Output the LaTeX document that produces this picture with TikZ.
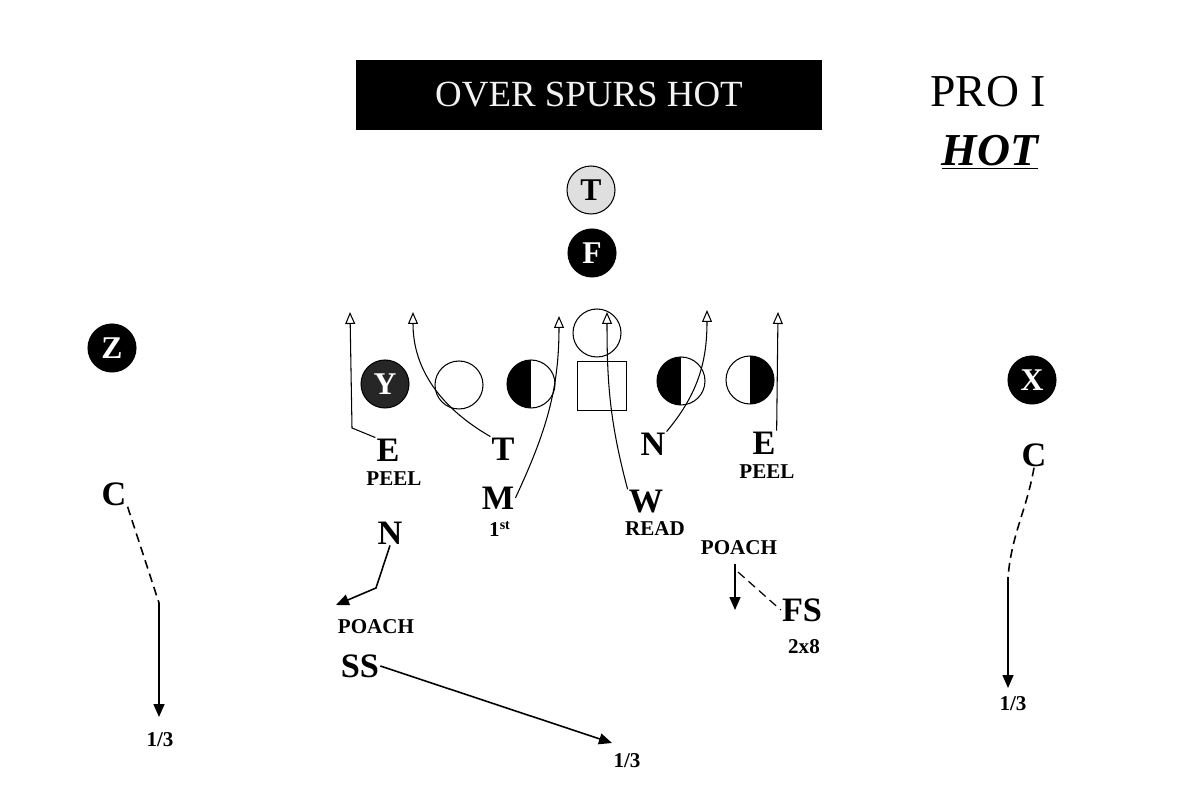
\documentclass[tikz,border=0pt]{standalone}
\usepackage{fontspec}
\setmainfont{Liberation Serif}
\usetikzlibrary{arrows.meta,positioning}

\begin{document}
\begin{tikzpicture}[x=0.02cm,y=-0.02cm,
 plyr/.style={circle,draw,line width=0.6pt,minimum size=0.96cm,inner sep=0pt,font=\fontsize{18}{18}\selectfont\bfseries},
 dark/.style={plyr,fill=black,text=white},
 halfl/.style={plyr,path picture={\fill (path picture bounding box.south west) rectangle (path picture bounding box.north);}},
 halfr/.style={plyr,path picture={\fill (path picture bounding box.south east) rectangle (path picture bounding box.north);}},
 dfd/.style={font=\fontsize{19.5}{19.5}\selectfont\bfseries,inner sep=0.5pt},
 tag/.style={font=\fontsize{12}{12}\selectfont\bfseries,inner sep=0.5pt},
 route/.style={line width=0.6pt,-{Triangle[open,length=2.4mm,width=2mm]}},
 drop/.style={line width=0.9pt,-{Triangle[length=2.6mm,width=2.2mm]}},
 zone/.style={line width=0.9pt,dash pattern=on 5pt off 3pt}]
\useasboundingbox (0,0) rectangle (1200,793);
% headings
\node[fill=black,minimum width=9.32cm,minimum height=1.42cm,text=gray!10,font=\fontsize{21}{21}\selectfont] (title) at (589,95) {OVER SPURS HOT};
\node[font=\fontsize{26}{26}\selectfont] (pro) at (988,92) {PRO I};
\node[font=\fontsize{26}{26}\selectfont\bfseries\itshape] (hot) at (990,152) {\underline{HOT}};
% offense
\node[plyr,fill=gray!25] (tb) at (591,190) {T};
\node[dark] (fb) at (592,253) {F};
\node[plyr] (ctr) at (597,333) {};
\node[dark,fill=black!85] (y) at (385,384) {Y};
\node[plyr] (lt) at (459,385) {};
\node[halfl] (lg) at (531,384) {};
\node[draw,line width=0.6pt,minimum size=0.98cm] (qb) at (602,386) {};
\node[halfl] (rg) at (681,381) {};
\node[halfr] (rt) at (750,380) {};
\node[dark] (z) at (112,348) {Z};
\node[dark] (x) at (1032,380) {X};
% defense
\node[dfd] (el) at (388,450) {E};
\node[tag] (peell) at (394,479) {PEEL};
\node[dfd] (dt) at (503,449) {T};
\node[dfd] (m) at (498,498) {M};
\node[tag] (first) at (500,529) {1\textsuperscript{st}};
\node[dfd] (w) at (646,502) {W};
\node[tag] (read) at (655,529) {READ};
\node[dfd] (nr) at (653,444) {N};
\node[dfd] (er) at (764,443) {E};
\node[tag] (peelr) at (767,472) {PEEL};
\node[dfd] (nl) at (390,533) {N};
\node[tag] (poachl) at (376,627) {POACH};
\node[dfd] (ss) at (360,666) {SS};
\node[tag] (third) at (627,761) {1/3};
\node[tag] (poachr) at (739,548) {POACH};
\node[dfd] (fs) at (802,610) {FS};
\node[tag] (twox) at (804,647) {2x8};
\node[dfd] (cl) at (114,494) {C};
\node[tag] (thirdl) at (160,740) {1/3};
\node[dfd] (cr) at (1034,455) {C};
\node[tag] (thirdr) at (1013,704) {1/3};
% route ends
\coordinate (tp1) at (350,312);
\coordinate (tp2) at (413,312);
\coordinate (tp3) at (559,316);
\coordinate (tp4) at (607,312);
\coordinate (tp5) at (707,310);
\coordinate (tp6) at (778,312);
\coordinate (kl) at (159,603);
\coordinate (kr) at (1008,577);
\coordinate (kn) at (376,588);
% rush lanes
\draw[route] (el.north west) -- (352,428) -- (tp1);
\draw[route] (dt.north west) to[out=150,in=-90] (tp2);
\draw[route] (m.east) to[out=65,in=-90] (tp3);
\draw[route] (w.north west) to[out=105,in=-90] (tp4);
\draw[route] (nr.north east) to[out=50,in=-90] (tp5);
\draw[route] (er.north east) -- (tp6);
% coverage
\draw[drop] (nl.south) -- (kn) -- ++(-40,17);
\draw[drop] (ss.east) -- (612,743);
\draw[drop] (poachr.south -| 735,0) ++(0,8) -- (735,610);
\draw[zone,line width=0.7pt] (738,572) -- (fs.west);
\draw[zone] (cl.south east) -- (kl);
\draw[drop] (kl) -- (159,717);
\draw[zone] (cr.south) to[out=-100,in=85] (kr);
\draw[drop] (kr) -- (1008,688);
\end{tikzpicture}
\end{document}
